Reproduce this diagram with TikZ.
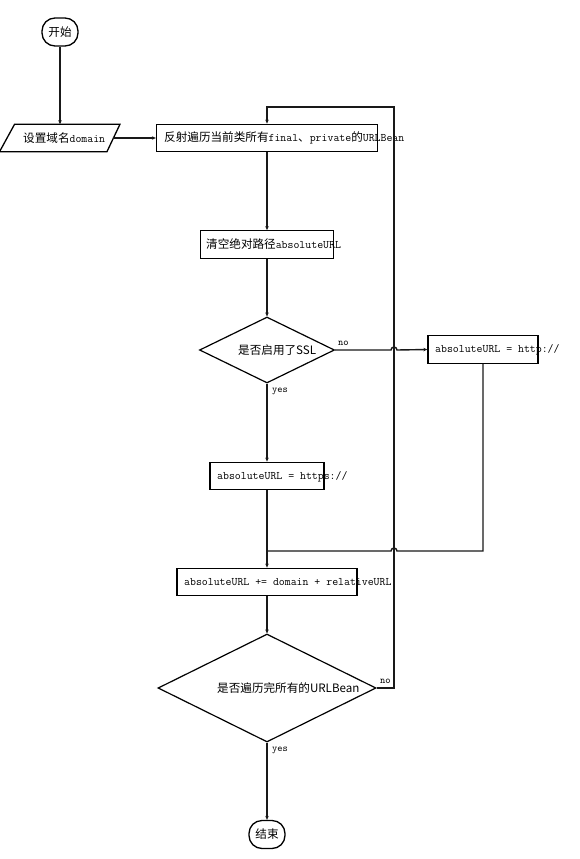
\documentclass[tikz,border=0pt]{standalone}
\usepackage{fontspec}
\newfontfamily\cjk{Noto Sans CJK SC}
\usetikzlibrary{shapes.geometric,arrows.meta}
\newcommand\zh[1]{{\cjk\fontsize{11.6}{12}\selectfont #1}}
\begin{document}
\begin{tikzpicture}[x=1pt,y=-1pt,
  ln/.style={line width=1.4pt, draw=black!90},
  arr/.style={ln,-{Stealth[length=4pt,width=3.5pt]}},
  box/.style={draw, line width=1.3pt, rectangle, inner sep=0pt, minimum height=27.5pt},
  term/.style={draw, line width=1.3pt, rounded corners=13pt, minimum width=36pt, minimum height=28pt, inner sep=0pt, font=\cjk\fontsize{11.6}{12}\selectfont},
  dia/.style={draw, line width=1.2pt, diamond, inner sep=0pt},
  txt/.style={anchor=west, inner sep=0pt, font=\ttfamily\fontsize{11.5}{12}\selectfont},
  lab/.style={anchor=west, inner sep=0pt, font=\ttfamily\fontsize{10}{11}\selectfont}
]
\fill[white] (0,0) rectangle (580,859);
\useasboundingbox (0,0) rectangle (580,859);

% nodes
\node[term] (start) at (60,32) {开始};
\node[rectangle, inner sep=0pt, minimum width=105.5pt, minimum height=27pt] (domain) at (60,138) {};
\draw[line width=1.3pt] ([xshift=7.5pt]domain.north west) -- ([xshift=7pt]domain.north east)
   -- ([xshift=-6pt]domain.south east) -- ([xshift=-7.5pt]domain.south west) -- cycle;
\node[txt] (domaint) at (23,138) {\zh{设置域名}domain};

\node[box, minimum width=221pt] (reflect) at (267,138) {};
\node[txt] (reflectt) at (164,138) {\zh{反射遍历当前类所有}final\zh{、}private\zh{的}URLBean};

\node[box, minimum width=133pt] (clear) at (267,244.5) {};
\node[txt] (cleart) at (206,244.5) {\zh{清空绝对路径}absoluteURL};

\node[dia, minimum width=135pt, minimum height=66pt] (ssl) at (267,350) {};
\node[anchor=west, inner sep=0pt, font=\cjk\fontsize{11.6}{12}\selectfont] (sslt) at (238,350.5) {是否启用了SSL};

\node[box, minimum width=110pt] (http) at (483,349.5) {};
\node[txt] (httpt) at (435,350) {absoluteURL = http://};

\node[box, minimum width=114pt] (https) at (267,476) {};
\node[txt] (httpst) at (217,476.5) {absoluteURL = https://};

\node[box, minimum width=180pt] (concat) at (267,582) {};
\node[txt] (concatt) at (184,582.5) {absoluteURL += domain + relativeURL};

\node[dia, minimum width=218pt, minimum height=108pt] (done) at (267,688) {};
\node[anchor=west, inner sep=0pt, font=\cjk\fontsize{11.6}{12}\selectfont] (donet) at (217,688.5) {是否遍历完所有的URLBean};

\node[term] (end) at (267,834.5) {结束};

% coordinates
\coordinate (hop1) at (394,350);
\coordinate (hop2) at (394,551);
\coordinate (jright) at (483,551);
\coordinate (join) at (267,551);
\coordinate (lt) at (394,107);

% connectors
\draw[arr] (start) -- (domain);
\draw[arr] (domain.east) -- (reflect.west);
\draw[arr] (reflect) -- (clear);
\draw[arr] (clear) -- (ssl.north);
\draw[arr] (ssl.east) -- ([xshift=-3pt]hop1) arc[start angle=180, end angle=0, radius=3pt] -- (http.west);
\draw[arr] (ssl.south) -- (https.north);
\draw[ln] (http.south) -- (jright) -- ([xshift=3pt]hop2) arc[start angle=0, end angle=180, radius=3pt] -- (join);
\draw[arr] (https.south) -- (concat.north);
\draw[arr] (concat.south) -- (done.north);
\draw[arr] (done.east) -| (lt) -| (reflect.north);
\draw[arr] (done.south) -- (end.north);

% labels
\node[lab] (lno1) at (338,343.5) {no};
\node[lab] (lyes1) at (272,391.5) {yes};
\node[lab] (lno2) at (380,681.5) {no};
\node[lab] (lyes2) at (272,750.5) {yes};
\end{tikzpicture}
\end{document}
